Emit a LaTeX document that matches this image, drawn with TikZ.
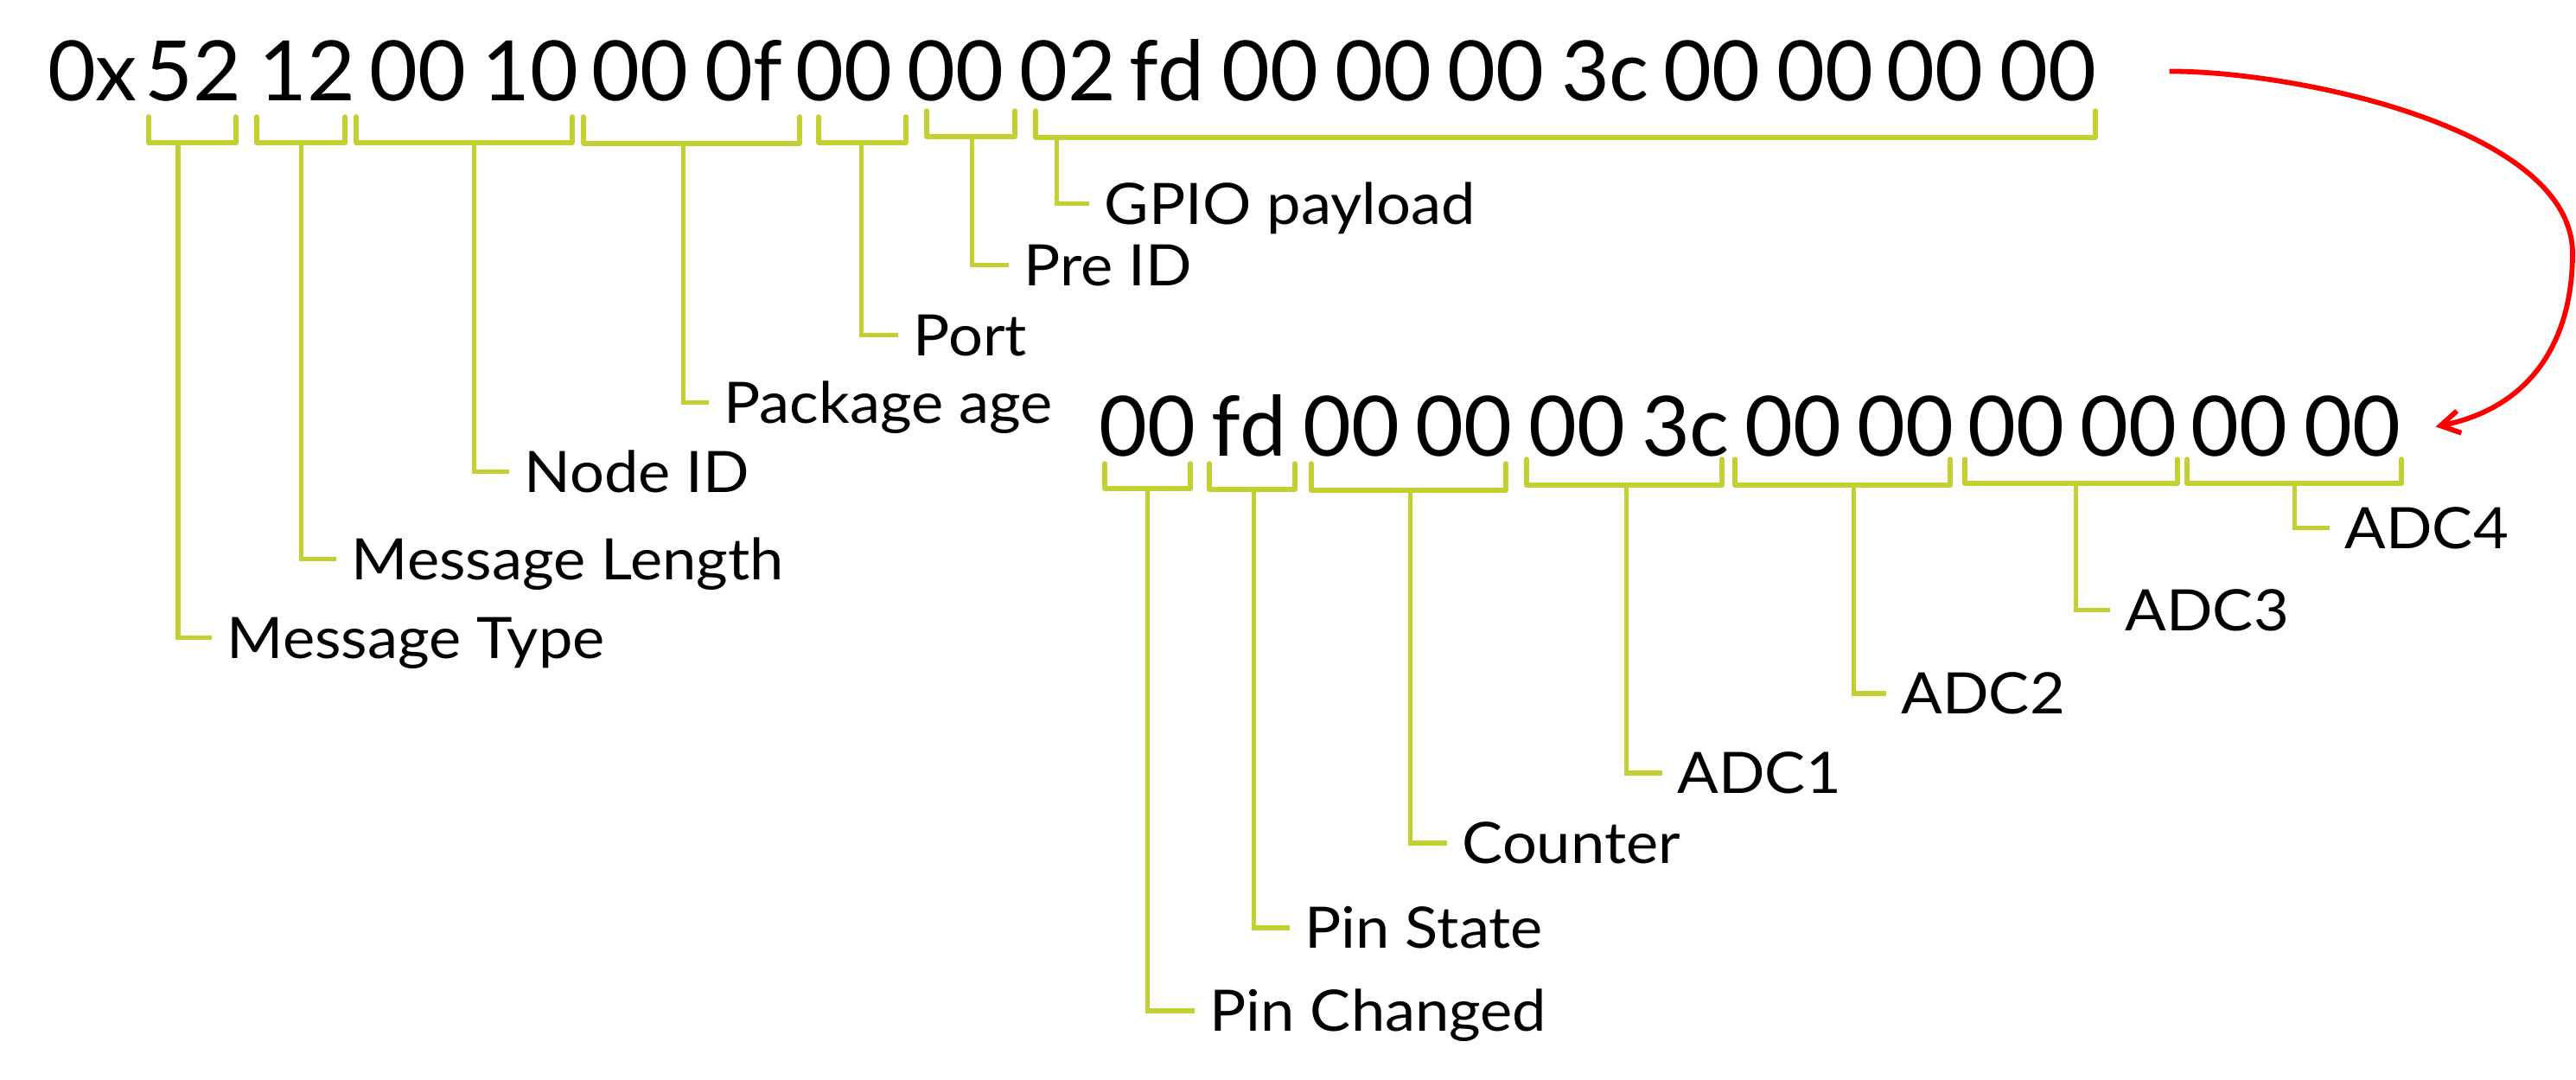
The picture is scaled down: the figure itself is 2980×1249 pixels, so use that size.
\documentclass[tikz,border=0pt]{standalone}
\usepackage{fontspec}
\setmainfont{Lato}
\newfontfamily\labelfont{Lato}[FakeStretch=1.065]
\usepackage{xcolor}
\usetikzlibrary{arrows.meta}
\definecolor{bracketgreen}{RGB}{195,208,50}
\definecolor{flowred}{RGB}{255,0,0}
\tikzset{
  hexbyte/.style={anchor=base, inner sep=0pt, font=\fontsize{27.4}{30}\selectfont},
  fieldlabel/.style={anchor=west, inner ysep=0pt, inner xsep=0.17cm, text height=0.47cm, text depth=0pt, font=\labelfont\fontsize{18.8}{22}\selectfont},
  brace/.style={draw=bracketgreen, line width=0.055cm, line cap=round, line join=round},
  lead/.style={draw=bracketgreen, line width=0.05cm},
  flow/.style={draw=flowred, line width=0.058cm, -{Straight Barb[length=0.22cm, width=0.26cm]}},
}
\begin{document}
\begin{tikzpicture}[x=0.01cm, y=-0.01cm]
\useasboundingbox (0,0) rectangle (2980,1249);
% full message
\foreach \n/\x/\t in {1/107/0x, 2/223/52, 3/355/12, 4/483/00, 5/613/10, 6/740/00, 7/860/0f, 8/976/00, 9/1105/00, 10/1235/02, 11/1350/fd, 12/1469/00, 13/1600/00, 14/1730/00, 15/1857/3c, 16/1980/00, 17/2111/00, 18/2238/00, 19/2369/00}
  \node[hexbyte] (t\n) at (\x,117) {\t};
% GPIO payload
\foreach \n/\x/\t in {1/1327/00, 2/1445/fd, 3/1563/00, 4/1693/00, 5/1824/00, 6/1950/3c, 7/2074/00, 8/2204/00, 9/2332/00, 10/2462/00, 11/2590/00, 12/2721/00}
  \node[hexbyte] (p\n) at (\x,528) {\t};

% brackets, top row
\draw[brace] (172,135) |- (273,165) -- (273,135);
\draw[brace] (297,135) |- (399,165) -- (399,135);
\draw[brace] (412,135) |- (662,165) -- (662,135);
\draw[brace] (675,135) |- (925,166) -- (925,135);
\draw[brace] (947,135) |- (1048,165) -- (1048,135);
\draw[brace] (1072,128) |- (1174,158) -- (1174,128);
\draw[brace] (1198,128) |- (2424,159) -- (2424,128);
\coordinate (smtype) at (206,165);
\coordinate (smlen) at (348,165);
\coordinate (snode) at (548,165);
\coordinate (sage) at (790,166);
\coordinate (sport) at (996,165);
\coordinate (spre) at (1124,158);
\coordinate (sgpio) at (1222,159);

\node[fieldlabel] (msgtype) at (245,738) {Message Type};
\node[fieldlabel] (msglen) at (389,647) {Message Length};
\node[fieldlabel] (nodeid) at (589,546) {Node ID};
\node[fieldlabel] (pkgage) at (820,466) {Package age};
\node[fieldlabel] (port) at (1039,388) {Port};
\node[fieldlabel] (preid) at (1167,307) {Pre ID};
\node[fieldlabel] (gpio) at (1260,236) {GPIO payload};

\draw[lead] (smtype) |- (msgtype);
\draw[lead] (smlen) |- (msglen);
\draw[lead] (snode) |- (nodeid);
\draw[lead] (sage) |- (pkgage);
\draw[lead] (sport) |- (port);
\draw[lead] (spre) |- (preid);
\draw[lead] (sgpio) |- (gpio);

% brackets, bottom row
\draw[brace] (1278,536) |- (1377,565) -- (1377,536);
\draw[brace] (1399,536) |- (1498,566) -- (1498,536);
\draw[brace] (1517,536) |- (1742,567) -- (1742,536);
\draw[brace] (1766,531) |- (1992,561) -- (1992,531);
\draw[brace] (2007,531) |- (2256,561) -- (2256,531);
\draw[brace] (2273,531) |- (2519,559) -- (2519,531);
\draw[brace] (2530,531) |- (2778,559) -- (2778,531);
\coordinate (spchg) at (1327,565);
\coordinate (spstate) at (1450,566);
\coordinate (scount) at (1631,567);
\coordinate (sadca) at (1881,561);
\coordinate (sadcb) at (2144,561);
\coordinate (sadcc) at (2401,559);
\coordinate (sadcd) at (2654,559);

\node[fieldlabel] (pinchg) at (1382,1169) {Pin Changed};
\node[fieldlabel] (pinstate) at (1492,1073) {Pin State};
\node[fieldlabel] (counter) at (1674,975) {Counter};
\node[fieldlabel] (adca) at (1923,894) {ADC1};
\node[fieldlabel] (adcb) at (2182,802) {ADC2};
\node[fieldlabel] (adcc) at (2441,706) {ADC3};
\node[fieldlabel] (adcd) at (2695,611) {ADC4};

\draw[lead] (spchg) |- (pinchg);
\draw[lead] (spstate) |- (pinstate);
\draw[lead] (scount) |- (counter);
\draw[lead] (sadca) |- (adca);
\draw[lead] (sadcb) |- (adcb);
\draw[lead] (sadcc) |- (adcc);
\draw[lead] (sadcd) |- (adcd);

% payload is split out below
\coordinate (bend) at (2976,293);
\draw[flow] ([xshift=0.84cm]t19.east) .. controls +(151,0) and +(0,-143) .. (bend)
  .. controls +(0,97) and +(114,-23) .. ([xshift=0.40cm]p12.east);
\end{tikzpicture}
\end{document}
